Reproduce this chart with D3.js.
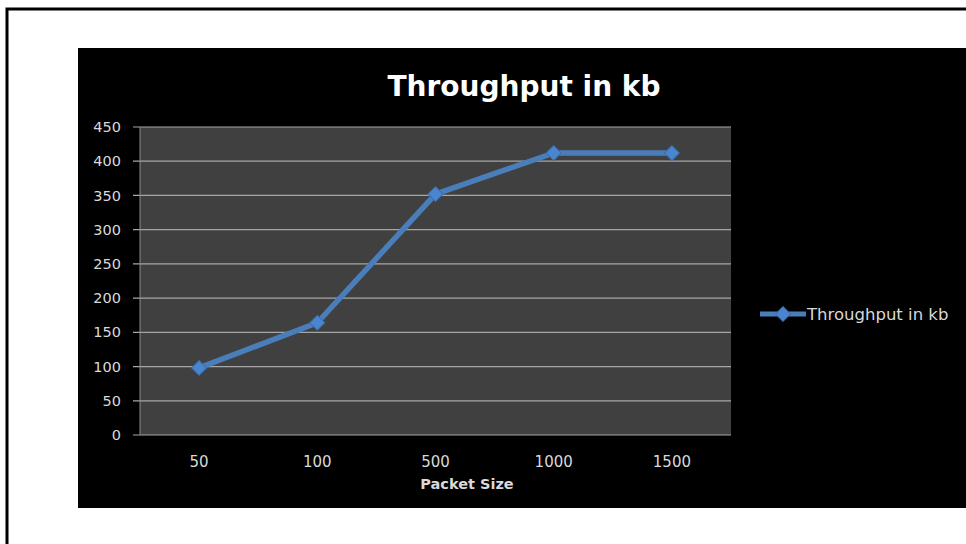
<!DOCTYPE html>
<html>
<head>
<meta charset="utf-8">
<script src="https://cdn.jsdelivr.net/npm/d3@7"></script>
<style>
  body { margin: 0; background: #fff; }
  text { font-family: "DejaVu Sans", "Open Sans", sans-serif; }
</style>
</head>
<body>
<svg id="chart" width="966" height="544"></svg>
<script>
var categories = ['50', '100', '500', '1000', '1500'];
var throughput = [98, 164, 352, 412, 412];
var yTicks = [0, 50, 100, 150, 200, 250, 300, 350, 400, 450];
var seriesName = 'Throughput in kb';

var svg = d3.select('#chart');

// outer frame
svg.append('path')
  .attr('d', 'M7,544 V9 H966')
  .attr('fill', 'none')
  .attr('stroke', '#000')
  .attr('stroke-width', 3);

// chart background
svg.append('rect')
  .attr('x', 78).attr('y', 48)
  .attr('width', 888).attr('height', 460)
  .attr('fill', '#000');

var plot = { left: 140, right: 731, top: 127, bottom: 435 };

var x = d3.scaleBand()
  .domain(categories)
  .range([plot.left, plot.right]);

var y = d3.scaleLinear()
  .domain([0, 450])
  .range([plot.bottom, plot.top]);

svg.append('rect')
  .attr('x', plot.left).attr('y', plot.top)
  .attr('width', plot.right - plot.left)
  .attr('height', plot.bottom - plot.top)
  .attr('fill', '#404040');

// gridlines
svg.append('g')
  .selectAll('line')
  .data(yTicks)
  .enter()
  .append('line')
  .attr('x1', plot.left - 7)
  .attr('x2', plot.right)
  .attr('y1', function(d) { return y(d); })
  .attr('y2', function(d) { return y(d); })
  .attr('stroke', '#a6a6a6')
  .attr('stroke-width', 1.2);

// left axis line
svg.append('line')
  .attr('x1', plot.left).attr('x2', plot.left)
  .attr('y1', plot.top).attr('y2', plot.bottom)
  .attr('stroke', '#8c8c8c');

// y labels
svg.append('g')
  .selectAll('text')
  .data(yTicks)
  .enter()
  .append('text')
  .attr('x', 121)
  .attr('y', function(d) { return y(d); })
  .attr('dy', '0.35em')
  .attr('text-anchor', 'end')
  .attr('fill', '#d9d9d9')
  .style('font-size', '14.5px')
  .text(function(d) { return d; });

// x labels
svg.append('g')
  .selectAll('text')
  .data(categories)
  .enter()
  .append('text')
  .attr('x', function(d) { return x(d) + x.bandwidth() / 2; })
  .attr('y', 467)
  .attr('text-anchor', 'middle')
  .attr('fill', '#d9d9d9')
  .style('font-size', '15px')
  .text(function(d) { return d; });

svg.append('text')
  .attr('x', 467).attr('y', 489)
  .attr('text-anchor', 'middle')
  .attr('fill', '#d9d9d9')
  .style('font-size', '14.5px')
  .style('font-weight', 'bold')
  .text('Packet Size');

svg.append('text')
  .attr('x', 524).attr('y', 96)
  .attr('text-anchor', 'middle')
  .attr('fill', '#fff')
  .style('font-size', '28px')
  .style('font-weight', 'bold')
  .text(seriesName);

// series
var line = d3.line()
  .x(function(d, i) { return x(categories[i]) + x.bandwidth() / 2; })
  .y(function(d) { return y(d); });

svg.append('path')
  .datum(throughput)
  .attr('d', line)
  .attr('fill', 'none')
  .attr('stroke', '#4a7ebb')
  .attr('stroke-width', 5.5)
  .attr('stroke-linejoin', 'round');

var marker = d3.symbol().type(d3.symbolSquare).size(110);

svg.append('g')
  .selectAll('path')
  .data(throughput)
  .enter()
  .append('path')
  .attr('d', marker)
  .attr('transform', function(d, i) {
    return 'translate(' + (x(categories[i]) + x.bandwidth() / 2) + ',' + y(d) + ') rotate(45)';
  })
  .attr('fill', '#4a86d0')
  .attr('stroke', '#3a6fb0')
  .attr('stroke-width', 1);

// legend
var legend = svg.append('g').attr('transform', 'translate(760,314)');
legend.append('line')
  .attr('x1', 0).attr('x2', 46)
  .attr('stroke', '#4a7ebb')
  .attr('stroke-width', 5);
legend.append('path')
  .attr('d', marker)
  .attr('transform', 'translate(23,0) rotate(45)')
  .attr('fill', '#4a86d0')
  .attr('stroke', '#3a6fb0');
legend.append('text')
  .attr('x', 47)
  .attr('dy', '0.35em')
  .attr('fill', '#d9d9d9')
  .style('font-size', '16.5px')
  .text(seriesName);
</script>
</body>
</html>
